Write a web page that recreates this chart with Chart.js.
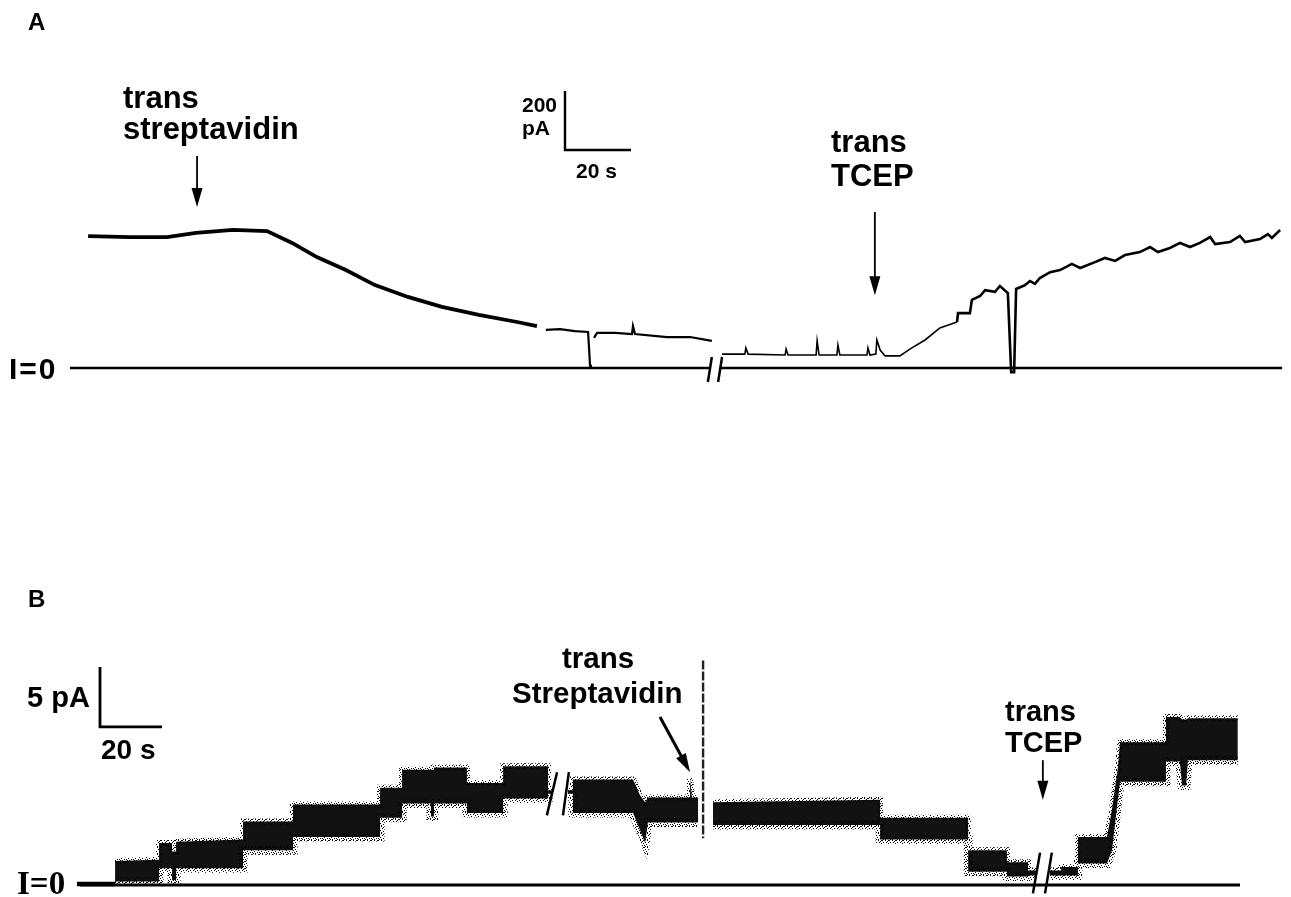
<!DOCTYPE html>
<html>
<head>
<meta charset="utf-8">
<script src="https://cdn.jsdelivr.net/npm/chart.js@4.4.1/dist/chart.umd.min.js"></script>
<style>
  body { margin: 0; background: #fff; }
  #wrap { position: relative; width: 1291px; height: 897px; }
  .lbl { position: absolute; font-family: "Liberation Sans", Arial, sans-serif; font-weight: bold; color: #000; line-height: 1; white-space: nowrap; }
  .serif { font-family: "Liberation Serif", "Times New Roman", serif; }
</style>
</head>
<body>
<div id="wrap">
  <canvas id="trace" width="1291" height="897"></canvas>

  <div class="lbl" style="left:28px;top:10px;font-size:24px">A</div>
  <div class="lbl" style="left:123px;top:82px;font-size:31px">trans</div>
  <div class="lbl" style="left:123px;top:113px;font-size:31px">streptavidin</div>
  <div class="lbl" style="left:522px;top:94px;font-size:21px">200</div>
  <div class="lbl" style="left:522px;top:117px;font-size:21px">pA</div>
  <div class="lbl" style="left:576px;top:160px;font-size:21px">20 s</div>
  <div class="lbl" style="left:831px;top:126px;font-size:31px">trans</div>
  <div class="lbl" style="left:831px;top:160px;font-size:31px">TCEP</div>
  <div class="lbl" style="left:9px;top:354px;font-size:30px;letter-spacing:2px">I=0</div>

  <div class="lbl" style="left:28px;top:587px;font-size:24px">B</div>
  <div class="lbl" style="left:27px;top:683px;font-size:29px">5 pA</div>
  <div class="lbl" style="left:101px;top:736px;font-size:28px">20 s</div>
  <div class="lbl" style="left:562px;top:643px;font-size:29.5px">trans</div>
  <div class="lbl" style="left:512px;top:678px;font-size:29.5px">Streptavidin</div>
  <div class="lbl" style="left:1005px;top:697px;font-size:29px">trans</div>
  <div class="lbl" style="left:1005px;top:728px;font-size:29px">TCEP</div>
  <div class="lbl serif" style="left:17px;top:867px;font-size:33px">I=0</div>
</div>

<script>
// ---- Panel A (time in s, current in pA) ----
// thick part before streptavidin effect
const aTime1 = [5.5, 18.2, 29.4, 38.2, 49.4, 59.7, 67.3, 74.8, 83.6, 92.4, 102.4, 112.7, 123.9, 135.5, 141.5];
const aCur1  = [447, 444, 444, 458, 468, 464, 424, 376, 332, 281, 241, 207, 180, 156, 142];
// thinner pieces before the break
const aTime2 = [144.2, 148.5, 153.0, 157.0, 157.6, 158.2, null, 158.8, 159.7, 165.2, 170.3, 170.6, 171.2, 180.9, 187.9, 194.5];
const aCur2  = [129, 132, 125, 122, 7, 7, null, 102, 119, 119, 115, 142, 115, 105, 105, 92];
// after the break: near-zero baseline with spikes, then TCEP rise
const aTime3 = [197.6, 204.5, 204.8, 205.5, 216.7, 217.0, 217.6, 226.1, 226.4, 227.0, 232.4, 232.7, 233.3,
                241.5, 241.8, 242.4, 244.2, 244.5, 245.5, 247.0, 251.5, 254.5, 259.1, 263.6, 268.8];
const aCur3  = [47, 47, 68, 47, 44, 64, 44, 44, 92, 44, 44, 78, 44,
                44, 68, 44, 47, 95, 61, 41, 41, 64, 95, 136, 156];
const aTime4 = [268.8, 269.1, 272.7, 273.3, 275.8, 277.3, 280.3, 281.8, 284.2, 285.2, 286.1, 286.7, 289.4, 290.9, 292.4,
                293.9, 297.0, 300.0, 303.6, 306.1, 310.6, 313.6, 316.7, 319.7, 324.2, 327.3, 329.7, 333.3, 336.4,
                339.4, 342.4, 345.5, 347.0, 351.5, 354.5, 356.1, 360.6, 363.0, 364.2, 366.7];
const aCur4  = [156, 186, 186, 231, 244, 264, 258, 278, 254, -14, -14, 268, 281, 295, 285,
                305, 325, 332, 353, 339, 359, 373, 363, 383, 393, 410, 393, 407, 424,
                410, 424, 444, 420, 427, 448, 427, 437, 454, 441, 468];
const aZeroTime = [0, 193.9, null, 197.0, 367.3];
const aBreaks = [[193.3, -47.5, 194.5, 37.3], [196.4, -47.5, 197.6, 37.3]];
const aScale = { t: 150, i: 739, dt: 20, di: 200 };

// ---- Panel B (time in s, current in pA), noisy band as upper / lower envelope ----
const bTime = [11.3, 25.5, 25.5, 29.7, 29.7, 31.0, 31.0, 52.6, 52.6, 68.7, 68.7, 96.8, 96.8, 103.9, 103.9,
               113.2, 113.2, 114.2, 114.2, 124.8, 124.8, 136.5, 136.5, 151.0, 151.0, 152.3, null,
               157.4, 159.0, 159.0, 178.4, 180.6, 182.3, 183.2, 196.8, 196.8, 197.4, 199.4, null,
               204.2, 258.1, 258.1, 286.5, 286.5, 299.0, 299.0, 305.8, 305.8, 308.4, null,
               312.9, 316.5, 316.5, 321.9, 321.9, 331.3, 332.9, 334.8, 335.5, 350.3, 350.3, 354.8, 355.5, 356.8, 357.4, 373.5];
const bHigh = [2.0, 2.1, 3.5, 3.5, 2.8, 2.8, 3.6, 3.8, 5.3, 5.3, 6.7, 6.7, 8.1, 8.1, 9.6,
               9.6, 9.6, 9.6, 9.8, 9.8, 8.5, 8.5, 9.9, 9.9, 7.9, 7.9, null,
               7.9, 7.9, 8.8, 8.8, 7.5, 6.9, 7.3, 7.3, 8.9, 7.3, 7.3, null,
               6.9, 7.1, 5.6, 5.6, 2.9, 2.9, 1.9, 1.9, 1.2, 1.2, null,
               1.2, 1.2, 1.5, 1.5, 4.0, 4.0, 6.3, 9.8, 11.9, 11.9, 14.0, 14.0, 13.8, 13.8, 13.9, 13.9];
const bLow  = [0.3, 0.3, 1.4, 1.4, 0.4, 0.4, 1.4, 1.4, 2.9, 2.9, 4.0, 4.0, 5.6, 5.6, 6.8,
               6.8, 5.7, 5.7, 6.8, 6.8, 6.0, 6.0, 7.2, 7.2, 7.6, 7.6, null,
               7.6, 7.6, 6.0, 6.0, 4.6, 3.5, 5.2, 5.2, 5.2, 5.2, 5.2, null,
               5.0, 5.0, 3.8, 3.8, 1.1, 1.1, 0.7, 0.7, 0.8, 0.8, null,
               0.8, 0.8, 0.8, 0.8, 1.8, 1.8, 2.9, 7.1, 8.6, 8.6, 10.3, 10.3, 8.3, 8.3, 10.4, 10.4];
const bStart = [-1.0, 11.3];
const bSpike = [201.0, 18.7, 3.9];
const bZeroTime = [0, 374.2];
const bBreaks = [[150.6, 5.8, 153.9, 9.4], [155.8, 5.8, 157.7, 9.4],
                 [307.4, -0.7, 309.7, 2.7], [311.3, -0.7, 313.5, 2.7]];
const bScale = { t: 6.45, i: 13.17, dt: 20, di: 5 };

// arrows: [panel, t, iFrom, tTo, iTo]
const arrows = [['A', 38.5, 719, 38.5, 546], ['A', 243.9, 529, 243.9, 247],
                ['B', 187.1, 14.0, 196.8, 9.4], ['B', 310.6, 10.4, 310.6, 7.1]];

// speckle texture for the fuzzy edges of the noisy band
function speckle() {
  const c = document.createElement('canvas');
  c.width = 7; c.height = 7;
  const g = c.getContext('2d');
  g.fillStyle = '#000';
  [[0, 0], [3, 0], [5, 1], [1, 2], [4, 2], [6, 3], [2, 4], [0, 5], [5, 5], [3, 6], [1, 6], [6, 0]]
    .forEach(p => g.fillRect(p[0], p[1], 1, 1));
  return g.createPattern(c, 'repeat');
}
const speck = speckle();

function pts(xs, ys) {
  return xs.map((x, k) => (x === null || ys[k] === null) ? { x: null, y: null } : { x: x, y: ys[k] });
}
function lineA(data, w, color) {
  return { type: 'line', data: data, xAxisID: 'xA', yAxisID: 'yA', borderColor: color || '#000', borderWidth: w,
           pointRadius: 0, fill: false, tension: 0, spanGaps: false };
}
function lineB(data, w, color) {
  return { type: 'line', data: data, xAxisID: 'xB', yAxisID: 'yB', borderColor: color || '#000', borderWidth: w,
           pointRadius: 0, fill: false, tension: 0, spanGaps: false };
}

const datasets = [];
// panel A
datasets.push(lineA(pts(aZeroTime, aZeroTime.map(v => v === null ? null : 0)), 2.5));
datasets.push(lineA(pts(aTime1, aCur1), 3.8));
datasets.push(lineA(pts(aTime2, aCur2), 2.2));
datasets.push(lineA(pts(aTime3, aCur3), 1.6));
datasets.push(lineA(pts(aTime4, aCur4), 2.6));
aBreaks.forEach(b => datasets.push(lineA([{ x: b[0], y: b[1] }, { x: b[2], y: b[3] }], 2.5)));
datasets.push(lineA([{ x: aScale.t, y: aScale.i + aScale.di }, { x: aScale.t, y: aScale.i }, { x: aScale.t + aScale.dt, y: aScale.i }], 2.4));

// panel B
datasets.push(lineB(pts(bZeroTime, [0, 0]), 3.2));
datasets.push(lineB(pts(bStart, [0.08, 0.08]), 4.5));
datasets.push(lineB(pts(bTime, bHigh), 6, speck));
datasets.push(Object.assign(lineB(pts(bTime, bLow), 9, speck), { fill: '-1', backgroundColor: '#121212' }));
datasets.push(Object.assign(lineB([{ x: bSpike[0], y: bSpike[1] }, { x: bSpike[0], y: bSpike[2] }], 2.4, '#222'), { borderDash: [9, 2] }));
bBreaks.forEach(b => datasets.push(lineB([{ x: b[0], y: b[1] }, { x: b[2], y: b[3] }], 2.5)));
datasets.push(lineB([{ x: bScale.t, y: bScale.i + bScale.di }, { x: bScale.t, y: bScale.i }, { x: bScale.t + bScale.dt, y: bScale.i }], 2.8));

const arrowPlugin = {
  id: 'arrows',
  afterDatasetsDraw(chart) {
    const c = chart.ctx;
    arrows.forEach(a => {
      const xs = chart.scales['x' + a[0]], ys = chart.scales['y' + a[0]];
      const x1 = xs.getPixelForValue(a[1]), y1 = ys.getPixelForValue(a[2]);
      const x2 = xs.getPixelForValue(a[3]), y2 = ys.getPixelForValue(a[4]);
      const ang = Math.atan2(y2 - y1, x2 - x1);
      c.save();
      c.strokeStyle = '#000';
      c.fillStyle = '#000';
      c.lineWidth = a[0] === 'B' && a[1] !== a[3] ? 3 : 1.8;
      c.beginPath();
      c.moveTo(x1, y1);
      c.lineTo(x2 - 12 * Math.cos(ang), y2 - 12 * Math.sin(ang));
      c.stroke();
      c.beginPath();
      c.moveTo(x2, y2);
      c.lineTo(x2 - 19 * Math.cos(ang) + 5.5 * Math.sin(ang), y2 - 19 * Math.sin(ang) - 5.5 * Math.cos(ang));
      c.lineTo(x2 - 19 * Math.cos(ang) - 5.5 * Math.sin(ang), y2 - 19 * Math.sin(ang) + 5.5 * Math.cos(ang));
      c.closePath();
      c.fill();
      c.restore();
    });
  }
};

new Chart(document.getElementById('trace'), {
  data: { datasets: datasets },
  options: {
    responsive: false,
    animation: false,
    parsing: false,
    normalized: true,
    layout: { padding: 0 },
    plugins: { legend: { display: false }, tooltip: { enabled: false } },
    scales: {
      xA: { type: 'linear', display: false, min: -21.21, max: 370.0 },
      yA: { type: 'linear', display: false, min: -1793.2, max: 1247.5 },
      xB: { type: 'linear', display: false, min: -25.81, max: 390.65 },
      yB: { type: 'linear', display: false, min: -1.0, max: 73.75 }
    }
  },
  plugins: [arrowPlugin]
});
</script>
</body>
</html>
